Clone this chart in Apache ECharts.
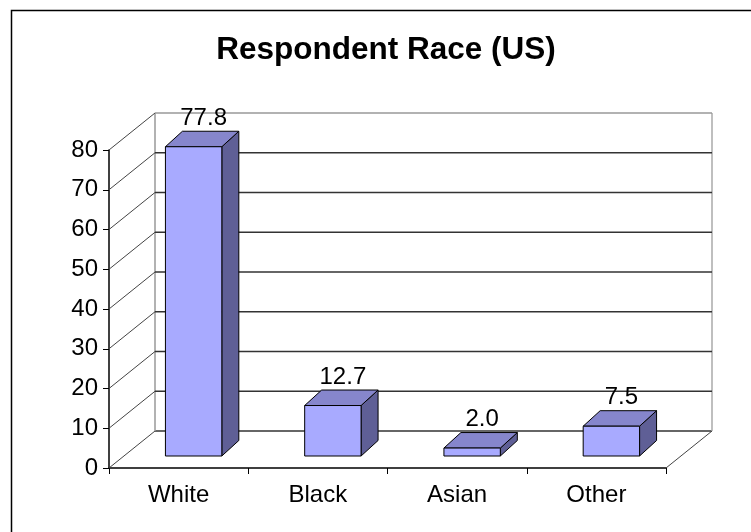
<!DOCTYPE html>
<html>
<head>
<meta charset="utf-8">
<script src="https://cdn.jsdelivr.net/npm/echarts@6/dist/echarts.min.js"></script>
<style>
  html, body { margin: 0; padding: 0; background: #fff; }
  #chart { width: 751px; height: 532px; }
</style>
</head>
<body>
<div id="chart"></div>
<script>
// 数据
const categories = ['White', 'Black', 'Asian', 'Other']
const shares = [77.8, 12.7, 2.0, 7.5]
const yTicks = [0, 10, 20, 30, 40, 50, 60, 70, 80]

// 3D 仿真参数：背墙相对前平面的偏移、柱子的位置/厚度
const WALL = [46, -37]
const BAR_SHIFT = [15, -12]
const BAR_DEPTH = [17, -15.5]
const BAR_WIDTH = 0.405
const FONT = '"Liberation Sans", Arial, sans-serif'

const chart = echarts.init(document.getElementById('chart'))

function renderWall(params, api) {
  const cs = params.coordSys
  const v = api.value(1)
  const y = api.coord([0, v])[1]
  const x0 = cs.x
  const x1 = cs.x + cs.width
  const top = v === yTicks[yTicks.length - 1]
  const children = [
    { type: 'line', shape: { x1: x0, y1: y, x2: x0 + WALL[0], y2: y + WALL[1] },
      style: { stroke: '#444', lineWidth: 1 } },
    { type: 'line', shape: { x1: x0 + WALL[0], y1: y + WALL[1], x2: x1 + WALL[0], y2: y + WALL[1] },
      style: { stroke: top ? '#999' : '#333', lineWidth: 1.5 } }
  ]
  if (v === 0) {
    const yTop = api.coord([0, yTicks[yTicks.length - 1]])[1]
    children.push(
      { type: 'line', shape: { x1: x1, y1: y, x2: x1 + WALL[0], y2: y + WALL[1] },
        style: { stroke: '#444', lineWidth: 1 } },
      { type: 'line', shape: { x1: x0 + WALL[0], y1: y + WALL[1], x2: x0 + WALL[0], y2: yTop + WALL[1] },
        style: { stroke: '#999', lineWidth: 1.5 } },
      { type: 'line', shape: { x1: x1 + WALL[0], y1: y + WALL[1], x2: x1 + WALL[0], y2: yTop + WALL[1] },
        style: { stroke: '#aaa', lineWidth: 1.5 } }
    )
  }
  return { type: 'group', children }
}

function renderBar(params, api) {
  const idx = api.value(0)
  const val = api.value(1)
  const base = api.coord([idx, 0])
  const head = api.coord([idx, val])
  const band = api.size([1, 0])[0]
  const w = band * BAR_WIDTH
  const xl = base[0] - w / 2 + BAR_SHIFT[0]
  const xr = xl + w
  const yb = base[1] + BAR_SHIFT[1]
  const yt = head[1] + BAR_SHIFT[1]
  const dx = BAR_DEPTH[0]
  const dy = BAR_DEPTH[1]
  const edge = { stroke: '#000', lineWidth: 1, lineJoin: 'round' }
  return {
    type: 'group',
    children: [
      { type: 'polygon', shape: { points: [[xr, yt], [xr + dx, yt + dy], [xr + dx, yb + dy], [xr, yb]] },
        style: Object.assign({ fill: '#5f5f96' }, edge) },
      { type: 'polygon', shape: { points: [[xl, yt], [xl + dx, yt + dy], [xr + dx, yt + dy], [xr, yt]] },
        style: Object.assign({ fill: '#8686cc' }, edge) },
      { type: 'rect', shape: { x: xl, y: yt, width: w, height: yb - yt },
        style: Object.assign({ fill: '#a8aaff' }, edge) },
      { type: 'text', style: {
          x: (xl + xr) / 2 + 10, y: yt + dy - 1,
          text: val.toFixed(1), align: 'center', verticalAlign: 'bottom',
          fill: '#000', font: '24px ' + FONT } }
    ]
  }
}

chart.setOption({
  animation: false,
  backgroundColor: '#fff',
  graphic: [
    { type: 'rect', shape: { x: 11.5, y: 10.5, width: 800, height: 600 },
      style: { fill: 'none', stroke: '#000', lineWidth: 1.5 } },
    { type: 'text', x: 386, y: 34,
      style: { text: 'Respondent Race (US)', fill: '#000', align: 'center',
        font: 'bold 31.5px ' + FONT } }
  ],
  grid: { left: 109, right: 85, top: 150, bottom: 64 },
  xAxis: {
    type: 'category',
    data: categories,
    axisLine: { lineStyle: { color: '#000', width: 1.5 } },
    axisTick: { show: true, length: 6, lineStyle: { color: '#000' } },
    axisLabel: { color: '#000', fontSize: 24, fontFamily: FONT, margin: 15 }
  },
  yAxis: {
    type: 'value',
    min: 0, max: 80, interval: 10,
    axisLine: { show: true, lineStyle: { color: '#000', width: 1.5 } },
    axisTick: { show: true, length: 6, lineStyle: { color: '#000' } },
    axisLabel: { color: '#000', fontSize: 24, fontFamily: FONT, margin: 11 },
    splitLine: { show: false }
  },
  series: [
    { type: 'custom', renderItem: renderWall, data: yTicks.map(v => [0, v]), silent: true, z: 1 },
    { type: 'custom', renderItem: renderBar, data: shares.map((v, i) => [i, v]), z: 2 }
  ]
})
</script>
</body>
</html>
